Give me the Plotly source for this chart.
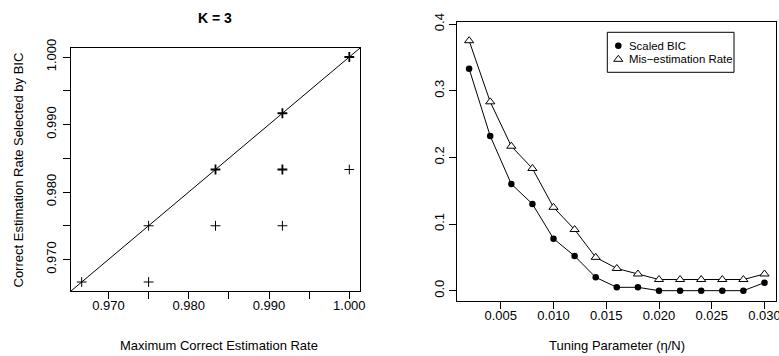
import plotly.graph_objects as go
from collections import Counter

# ---------------- data ----------------
# Left panel: (max correct estimation rate, rate selected by BIC), replicates repeated
max_rate = [116/120, 117/120, 117/120, 118/120, 118/120, 118/120, 118/120,
            119/120, 119/120, 119/120, 119/120, 119/120, 119/120,
            120/120, 120/120, 120/120, 120/120, 120/120]
bic_rate = [116/120, 116/120, 117/120, 118/120, 118/120, 118/120, 117/120,
            119/120, 119/120, 119/120, 118/120, 118/120, 117/120,
            120/120, 120/120, 120/120, 120/120, 118/120]

# Right panel
tuning = [0.002, 0.004, 0.006, 0.008, 0.010, 0.012, 0.014, 0.016, 0.018,
          0.020, 0.022, 0.024, 0.026, 0.028, 0.030]
scaled_bic = [0.333, 0.232, 0.160, 0.130, 0.078, 0.052, 0.020, 0.005, 0.005,
              0.000, 0.000, 0.000, 0.000, 0.000, 0.012]
mis_rate = [0.375, 0.2833, 0.2167, 0.1833, 0.125, 0.0917, 0.050, 0.0333, 0.025,
            0.0167, 0.0167, 0.0167, 0.0167, 0.0167, 0.025]
legend_names = ["Scaled BIC", "Mis\u2212estimation Rate"]

left_ticks = [0.970, 0.975, 0.980, 0.985, 0.990, 0.995, 1.000]
left_labels = ["0.970", "", "0.980", "", "0.990", "", "1.000"]
right_xticks = [0.005, 0.010, 0.015, 0.020, 0.025, 0.030]
right_yticks = [0.0, 0.1, 0.2, 0.3, 0.4]

FONT = "Liberation Sans, Arial, Helvetica, sans-serif"
W, H = 779, 356

def px(x):
    return x / W

def py(y):
    return 1 - y / H

# unique points with multiplicity
cnt = Counter(zip(max_rate, bic_rate))
ux = [p[0] for p in cnt]
uy = [p[1] for p in cnt]
uw = [1.0 if c == 1 else 1.8 for c in cnt.values()]

def rlim(vals, lo=None, hi=None):
    lo = min(vals) if lo is None else lo
    hi = max(vals) if hi is None else hi
    d = (hi - lo) * 0.04
    return [lo - d, hi + d]

lx = rlim(max_rate)
ly = rlim(bic_rate)

fig = go.Figure()
fig.add_trace(go.Scatter(x=ux, y=uy, mode="markers", xaxis="x", yaxis="y",
                         marker=dict(symbol="cross-thin-open", size=7, color="black",
                                     line=dict(color="black", width=uw)),
                         showlegend=False, hoverinfo="skip"))

fig.add_trace(go.Scatter(x=tuning, y=scaled_bic, mode="lines", xaxis="x2", yaxis="y2",
                         line=dict(color="black", width=1), showlegend=False))
fig.add_trace(go.Scatter(x=tuning, y=mis_rate, mode="lines", xaxis="x2", yaxis="y2",
                         line=dict(color="black", width=1), showlegend=False))
dot = dict(symbol="circle", size=6.5, color="black")
tri = dict(symbol="triangle-up", size=8, color="white", line=dict(color="black", width=1))
fig.add_trace(go.Scatter(x=tuning, y=scaled_bic, mode="markers", xaxis="x2", yaxis="y2",
                         name=legend_names[0], marker=dot, showlegend=False))
fig.add_trace(go.Scatter(x=tuning, y=mis_rate, mode="markers", xaxis="x2", yaxis="y2",
                         name=legend_names[1], marker=tri, showlegend=False))

# diagonal reference line y = x
fig.add_shape(type="line", xref="x", yref="y", x0=lx[0], y0=lx[0], x1=ly[1], y1=ly[1],
              line=dict(color="black", width=1))

# manual legend box (R style)
LB = dict(x0=607.3, x1=734, y0=32.3, y1=72.3)
rows = [45.7, 59.3]
fig.add_shape(type="rect", xref="paper", yref="paper",
              x0=px(LB["x0"]), x1=px(LB["x1"]), y0=py(LB["y1"]), y1=py(LB["y0"]),
              line=dict(color="black", width=1), fillcolor="white", layer="below")
fig.add_trace(go.Scatter(x=[618.3], y=[rows[0]], mode="markers", xaxis="x3", yaxis="y3",
                         marker=dot, showlegend=False, hoverinfo="skip"))
fig.add_trace(go.Scatter(x=[618.3], y=[rows[1]], mode="markers", xaxis="x3", yaxis="y3",
                         marker=tri, showlegend=False, hoverinfo="skip"))

axis_common = dict(showline=True, linecolor="black", linewidth=1, mirror=True,
                   ticks="outside", ticklen=7, tickcolor="black", tickwidth=1,
                   showgrid=False, zeroline=False, automargin=False,
                   ticklabeloverflow="allow",
                   tickfont=dict(family=FONT, size=13, color="black"))

annotations = [
    dict(text="<b>K = 3</b>", x=px(215), y=py(18), font=dict(size=14)),
    dict(text="Maximum Correct Estimation Rate", x=px(219), y=py(345)),
    dict(text="Correct Estimation Rate Selected by BIC", x=px(18), y=py(170.5), textangle=-90),
    dict(text="Tuning Parameter (\u03b7/N)", x=px(617), y=py(345)),
]
for name, ry in zip(legend_names, rows):
    annotations.append(dict(text=name, x=px(626.7), y=py(ry), xanchor="left",
                            font=dict(size=11.4)))
for a in annotations:
    a.update(xref="paper", yref="paper", showarrow=False)
    a.setdefault("xanchor", "center")
    a.setdefault("yanchor", "middle")

fig.update_layout(
    width=W, height=H,
    margin=dict(l=0, r=0, t=0, b=0),
    paper_bgcolor="white", plot_bgcolor="rgba(0,0,0,0)",
    font=dict(family=FONT, size=13, color="black"),
    showlegend=False,
    xaxis=dict(domain=[px(71), px(360)], range=lx, tickvals=left_ticks,
               ticktext=left_labels, anchor="y", ticklabelstandoff=-5, **axis_common),
    yaxis=dict(domain=[py(291), py(48)], range=ly, tickvals=left_ticks,
               ticktext=left_labels, tickangle=-90, anchor="x", ticklabelstandoff=2,
               **axis_common),
    xaxis2=dict(domain=[px(457.3), px(776.3)], range=rlim(tuning), tickvals=right_xticks,
                tickformat=".3f", anchor="y2", ticklabelstandoff=-5, **axis_common),
    yaxis2=dict(domain=[py(301), py(21.7)], range=rlim([], 0.0, 0.388), tickvals=right_yticks,
                tickformat=".1f", tickangle=-90, anchor="x2", **axis_common),
    xaxis3=dict(domain=[0, 1], range=[0, W], visible=False, anchor="y3"),
    yaxis3=dict(domain=[0, 1], range=[H, 0], visible=False, anchor="x3"),
    annotations=annotations,
)

fig.write_html("out.html", config={"displayModeBar": False})

# remove default page margin so the figure sits at the window origin
with open("out.html", encoding="utf-8") as f:
    html = f.read()
html = html.replace("<head>", "<head><style>html,body{margin:0;padding:0;overflow:hidden;}</style>", 1)
with open("out.html", "w", encoding="utf-8") as f:
    f.write(html)
